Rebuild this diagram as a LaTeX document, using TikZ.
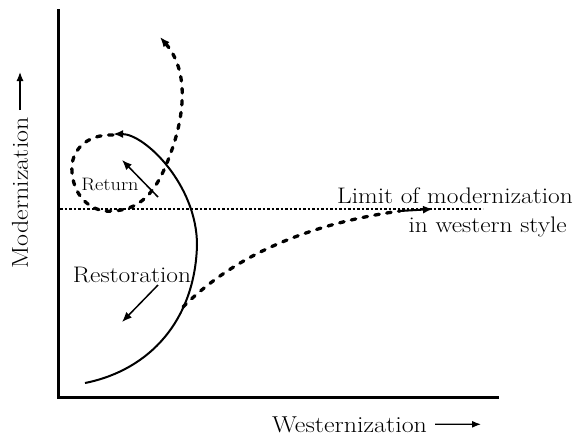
\documentclass[tikz,border=0pt]{standalone}
\usepackage{fontspec}
\setmainfont{Latin Modern Roman}[FakeStretch=1.13]
\usetikzlibrary{positioning, arrows.meta}

\begin{document}
\begin{tikzpicture}[
	% pixel-like units, y pointing down
	x=1pt, y=-1pt,
	% Style for the axes
	axis/.style={
		line width=3pt,
		line cap=rect
	},
	% Style for the text labels
	lbl/.style={
		inner sep=0pt,
		font=\fontsize{22.5}{31}\selectfont
	},
	axislbl/.style={
		inner sep=0pt,
		font=\fontsize{23}{28}\selectfont
	},
	% Style for the two paths
	path/.style={
		line width=2pt
	},
	dpath/.style={
		line width=3.3pt,
		line cap=round,
		dash pattern=on 4.5pt off 7.5pt
	},
	tip/.style={
		-{Latex[length=10pt, width=8pt]}
	}
	]
	\useasboundingbox (0,0) rectangle (577,445);
	
	% Axes
	\coordinate (top) at (58,10);
	\coordinate (right) at (497,397);
	\draw[axis] (top) |- (right);
	
	% Limit line
	\coordinate (lim1) at (60,209);
	\coordinate (lim2) at (483,209);
	\draw[line width=1.3pt, dash pattern=on 2.5pt off 2pt] (lim1) -- (lim2);
	
	% Axis labels
	\node[axislbl, rotate=90, anchor=east] (mod) at (20,117) {Modernization};
	\coordinate (modtip) at (20,72);
	\draw[line width=1.2pt, -{Latex[length=9pt, width=7pt]}] ([yshift=7pt]mod.east) -- (modtip);
	
	\node[axislbl, anchor=base west] (west) at (272,432) {Westernization};
	\coordinate (westtip) at (481,424.3);
	\draw[line width=1.2pt, -{Latex[length=9pt, width=7pt]}] ([xshift=8pt]west.east) -- (westtip);
	
	% Other labels
	\node[lbl, anchor=base east] (limit) at (573,203) {Limit of modernization};
	\node[lbl, anchor=base east] (style) at (567,232) {in western style};
	\node[lbl, anchor=base] (rest) at (132,282) {Restoration};
	\node[inner sep=0pt, font=\fontsize{18}{22}\selectfont, anchor=base] (ret) at (110,190) {Return};
	
	% Restoration path (solid)
	\draw[path, tip] (85,383) .. controls (150,370) and (195,320) .. (197,245)
		.. controls (197,185) and (145,134) .. (113,134);
	
	% Return loop (dashed)
	\draw[dpath, tip] (113,135) .. controls (85,134) and (70,152) .. (72,172)
		.. controls (74,200) and (95,213) .. (112,211)
		.. controls (145,210) and (159,185) .. (170,155)
		.. controls (184,118) and (190,72) .. (160,37);
	
	% Westernization path (dashed)
	\coordinate (wend) at (400,211);
	\coordinate (wtip) at (433,209);
	\draw[dpath] (183,307) .. controls (230,260) and (300,225) .. (wend);
	\draw[line width=2pt, tip] (wend) -- (wtip);
	
	% Small arrows
	\coordinate (ret1) at (158,197);
	\coordinate (ret2) at (122,160);
	\draw[line width=1.5pt, tip] (ret1) -- (ret2);
	\coordinate (res1) at (158,285);
	\coordinate (res2) at (122,322);
	\draw[line width=1.5pt, tip] (res1) -- (res2);
	
\end{tikzpicture}
\end{document}
